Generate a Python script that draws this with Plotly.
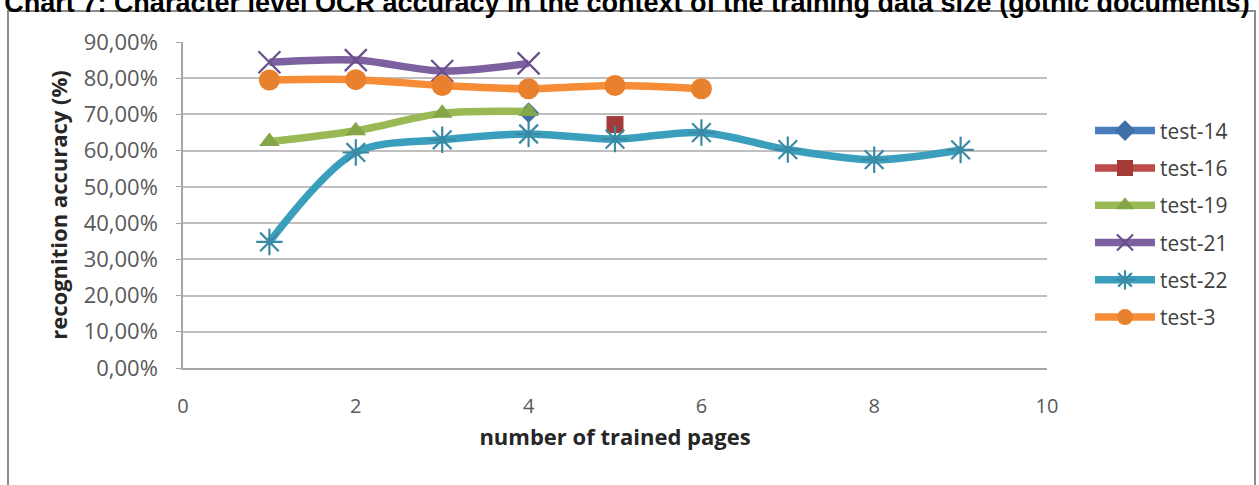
import plotly.graph_objects as go

# ---- data ----
pages_14 = [4]
acc_14 = [70.5]
pages_16 = [5]
acc_16 = [67.2]
pages_19 = [1, 2, 3, 4]
acc_19 = [62.5, 65.5, 70.3, 70.8]
pages_21 = [1, 2, 3, 4]
acc_21 = [84.4, 85.0, 82.0, 84.1]
pages_22 = [1, 2, 3, 4, 5, 6, 7, 8, 9]
acc_22 = [34.8, 59.5, 63.0, 64.6, 63.2, 65.0, 60.3, 57.5, 60.2]
pages_3 = [1, 2, 3, 4, 5, 6]
acc_3 = [79.5, 79.6, 78.0, 77.1, 78.0, 77.1]

y_tick_vals = [0, 10, 20, 30, 40, 50, 60, 70, 80, 90]
y_tick_text = ["0,00%", "10,00%", "20,00%", "30,00%", "40,00%", "50,00%",
               "60,00%", "70,00%", "80,00%", "90,00%"]
x_tick_vals = [0, 2, 4, 6, 8, 10]

title_text = ("Chart 7: Character level OCR accuracy in the context of the "
              "training data size (gothic documents)")

series = [
    ("test-14", pages_14, acc_14, "#4A7EBB", "#3E6FA8", "diamond", 16, 0),
    ("test-16", pages_16, acc_16, "#BE4B48", "#A33A37", "square", 17, 0),
    ("test-19", pages_19, acc_19, "#98B954", "#84A548", "triangle-up", 18, 0),
    ("test-21", pages_21, acc_21, "#7D60A0", "#6A4E8C", "x-thin-open", 22, 2.2),
    ("test-22", pages_22, acc_22, "#3A9FBC", "#3A8AA6", "asterisk-open", 22, 2.2),
    ("test-3", pages_3, acc_3, "#F68C36", "#E8812D", "circle", 21, 0),
]

FONT = "Open Sans"

fig = go.Figure()
for name, xs, ys, col, mcol, sym, size, mlw in series:
    marker = dict(symbol=sym, size=size, color=mcol)
    if mlw:
        marker["line"] = dict(width=mlw, color=mcol)
    else:
        marker["line"] = dict(width=0)
    fig.add_trace(go.Scatter(
        x=xs, y=ys, name=name, mode="lines+markers",
        line=dict(color=col, width=7.5, shape="spline", smoothing=0.9),
        marker=marker, legendgroup=name,
    ))

fig.update_layout(
    width=1259, height=485,
    margin=dict(l=183, r=212, t=42, b=117),
    paper_bgcolor="white", plot_bgcolor="white",
    font=dict(family=FONT, color="#404040"),
    title=dict(text="<b>" + title_text + "</b>",
               font=dict(family="Liberation Sans", size=27, color="black"),
               x=627 / 1259, xanchor="center", xref="container",
               y=1.0 - 3 / 485, yanchor="middle", yref="container"),
    showlegend=True,
    legend=dict(x=(1090 - 183) / 864, xanchor="left", y=0.79, yanchor="top",
                font=dict(family=FONT, size=21, color="#404040"),
                tracegroupgap=7, itemwidth=60,
                bgcolor="rgba(0,0,0,0)"),
    xaxis=dict(range=[0, 10], tickvals=x_tick_vals,
               showgrid=False, zeroline=False,
               showline=True, linecolor="#A6A6A6", linewidth=1.5,
               ticks="outside", ticklen=0,
               tickfont=dict(family=FONT, size=20, color="#595959"),
               ticklabelstandoff=19,
               title=dict(text="<b>number of trained pages</b>",
                          font=dict(family=FONT, size=22, color="#262626"),
                          standoff=12)),
    yaxis=dict(range=[0, 90], tickvals=y_tick_vals, ticktext=y_tick_text,
               showgrid=True, gridcolor="#BFBFBF", gridwidth=1.5,
               zeroline=False,
               showline=True, linecolor="#A6A6A6", linewidth=1.5,
               ticks="outside", ticklen=5, tickcolor="#A6A6A6",
               tickfont=dict(family=FONT, size=22, color="#595959"),
               ticklabelstandoff=14,
               title=dict(text="<b>recognition accuracy (%)</b>",
                          font=dict(family=FONT, size=22, color="#262626"),
                          standoff=10)),
    shapes=[dict(type="rect", xref="paper", yref="paper",
                 x0=(8 - 183) / 864, x1=(1255 - 183) / 864,
                 y0=(368 - 500) / 326, y1=(368 - 11) / 326,
                 line=dict(color="#8C8C8C", width=2), layer="below")],
)

fig.write_html("out.html")
